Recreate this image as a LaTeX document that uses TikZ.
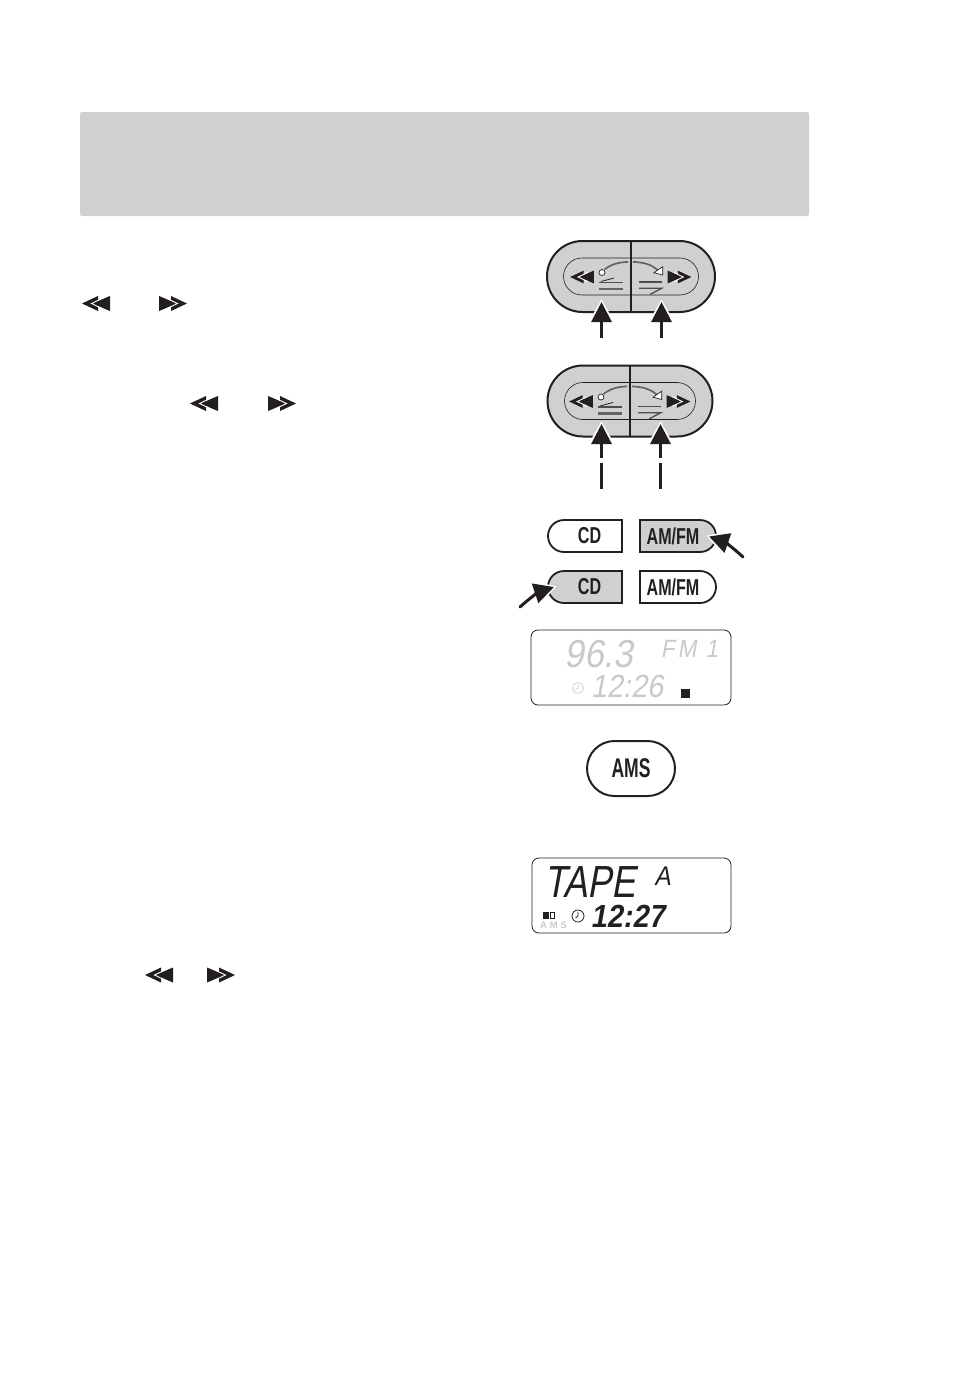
\documentclass[tikz,border=0pt]{standalone}
\usepackage{fontspec}
\usepackage{tikz}
\usetikzlibrary{shapes.misc,arrows.meta,calc}
\newfontfamily\btnfont[FakeStretch=0.7]{Liberation Sans}
\newfontfamily\amsfont[FakeStretch=0.65]{Liberation Sans}
\newfontfamily\lcdfont[FakeSlant=0.18,FakeStretch=0.9]{Liberation Sans}
\newfontfamily\lcdtall[FakeSlant=0.18,FakeStretch=0.8]{Liberation Sans}
\newfontfamily\tinyfont{Liberation Sans}
\definecolor{panelgrey}{HTML}{D0D0D0}
\definecolor{lcdgrey}{HTML}{C9C9C9}
\definecolor{inkblack}{HTML}{231F20}
\tikzstyle{pillbody} = [rounded rectangle, draw=inkblack, line width=2pt, fill=panelgrey, inner sep=0pt, outer sep=0pt]
\tikzstyle{pillinner} = [rounded rectangle, draw=inkblack, line width=0.6pt, inner sep=0pt, outer sep=0pt]
\tikzstyle{modebtn} = [rounded rectangle, draw=inkblack, line width=1.8pt, minimum width=74pt, minimum height=32pt, inner sep=0pt, outer sep=0pt]
\tikzstyle{leftround} = [modebtn, rounded rectangle east arc=none]
\tikzstyle{rightround} = [modebtn, rounded rectangle west arc=none]
\tikzstyle{btnlabel} = [inner sep=0pt, outer sep=0pt, text=inkblack, font=\btnfont\bfseries\fontsize{23}{23}\selectfont]
\tikzstyle{lcdbox} = [rectangle, rounded corners=7pt, draw=inkblack, line width=0.8pt, minimum width=199pt, minimum height=75pt, inner sep=0pt, outer sep=0pt]
\tikzstyle{lcdtext} = [inner sep=0pt, outer sep=0pt, text=inkblack]
\tikzstyle{pressarrow} = [line width=3pt, draw=inkblack, -{Triangle[length=20pt,width=20pt]}]
\tikzstyle{halo} = [preaction={draw=white, line width=3pt, -{Triangle[length=24pt,width=27pt]}, shorten >=-2.5pt}]
\tikzset{
  pics/fastfwd/.style={
    code={
      \fill[inkblack] (-2,-7.5) -- (14,0) -- (-2,7.5) -- cycle;
      \fill[inkblack] (-14,-7.5) -- (4,0) -- (-14,7.5) -- cycle;
      \draw[white, line width=0.9pt] (-7,-5.5) -- (4.5,0) -- (-7,5.5);
    }
  },
  pics/seekface/.style 2 args={
    code={
      \node (-outer) [pillbody, minimum width=#1pt, minimum height=71pt] at (0,0) {};
      \node (-inner) [pillinner, minimum width=#2pt, minimum height=37pt] at (0,0) {};
      \draw[inkblack, line width=1.3pt] (-outer.north) -- (-outer.south);
      \pic[scale=0.85, xscale=-1] at (-49,0.5) {fastfwd};
      \pic[scale=0.85] at (48.5,0.5) {fastfwd};
      % left half
      \draw[inkblack, line width=0.7pt, fill=white] (-29,-4) circle (3);
      \draw[inkblack!70, line width=1.7pt] (-26.5,-7) .. controls (-19,-13) and (-10,-14.5) .. (-3,-14.5);
      \draw[inkblack, line width=0.8pt] (-30,5) -- (-17,1.5);
      \draw[inkblack!80, line width=1.6pt] (-32,6) -- (-8,6);
      \draw[inkblack!70, line width=2.6pt] (-32,12.5) -- (-8,12.5);
      % right half
      \draw[inkblack!70, line width=1.7pt] (2,-14.5) .. controls (12,-14.5) and (21,-12) .. (27,-6);
      \draw[inkblack, line width=0.7pt, fill=white] (31.7,-1.5) -- (31.7,-9.8) -- (23,-3.8) -- cycle;
      \draw[inkblack!80, line width=1.8pt] (8,5.5) -- (31,5.5);
      \draw[inkblack!80, line width=1.3pt] (8,11.8) -- (30.6,11.8) -- (19,18);
    }
  }
}

\begin{document}
\begin{tikzpicture}[x=1pt,y=-1pt]
    \useasboundingbox (0,0) rectangle (954,1398);
    \node (band)[rectangle, rounded corners=2pt, fill=panelgrey, minimum width=729pt, minimum height=104pt, inner sep=0pt] at (444.5,164) {};

    % symbols in the text column
    \pic[xscale=-1] at (96,303.5) {fastfwd};
    \pic at (173,303.5) {fastfwd};
    \pic[xscale=-1] at (204,403.5) {fastfwd};
    \pic at (282,403.5) {fastfwd};
    \pic[xscale=-1] at (159,975) {fastfwd};
    \pic at (221,975) {fastfwd};

    % seek buttons
    \pic (pillA) at (631,276.5) {seekface={168}{135}};
    \pic (pillB) at (630,401) {seekface={165}{131}};

    \coordinate (tailA1) at (601.5,338);
    \coordinate (tipA1) at (601.5,302);
    \coordinate (tailA2) at (661.5,338);
    \coordinate (tipA2) at (661.5,302);
    \draw[pressarrow, halo] (tailA1) -- (tipA1);
    \draw[pressarrow, halo] (tailA2) -- (tipA2);

    \coordinate (tailB1) at (601.5,489);
    \coordinate (tipB1) at (601.5,424);
    \coordinate (tailB2) at (660.5,489);
    \coordinate (tipB2) at (660.5,424);
    \draw[pressarrow, halo, dash pattern=on 26pt off 5pt on 60pt] (tailB1) -- (tipB1);
    \draw[pressarrow, halo, dash pattern=on 26pt off 5pt on 60pt] (tailB2) -- (tipB2);

    % mode buttons
    \node (cdA)[leftround] at (585,536) {};
    \node (amA)[rightround, fill=panelgrey, minimum width=76pt] at (678,536) {};
    \node (cdB)[leftround, fill=panelgrey] at (585,587) {};
    \node (amB)[rightround, minimum width=76pt] at (678,587) {};
    \node (cdAtext)[btnlabel] at (589.5,536) {CD};
    \node (amAtext)[btnlabel] at (673,536) {AM/FM};
    \node (cdBtext)[btnlabel] at (589.5,587) {CD};
    \node (amBtext)[btnlabel] at (673,587) {AM/FM};
    \coordinate (tailC1) at (743,557);
    \coordinate (tipC1) at (709,536.5);
    \coordinate (tailC2) at (520,607);
    \coordinate (tipC2) at (554,587);
    \draw[pressarrow, halo, line cap=round] (tailC1) to[bend right=12] (tipC1);
    \draw[pressarrow, halo, line cap=round] (tailC2) to[bend left=12] (tipC2);

    % radio display
    \node (lcdA)[lcdbox, minimum width=200pt] at (631,667.5) {};
    \node (freq)[lcdtext, text=lcdgrey, font=\lcdfont\fontsize{39}{39}\selectfont] at (599,654) {96.3};
    \node (band1)[lcdtext, text=lcdgrey, font=\lcdfont\fontsize{25}{25}\selectfont\addfontfeature{LetterSpace=12}] at (689.5,649) {FM 1};
    \node (timeA)[lcdtext, text=lcdgrey, font=\lcdfont\fontsize{32}{32}\selectfont] at (627,686.5) {12:26};
    \draw[lcdgrey, line width=0.7pt] (578,688) circle (5.5);
    \draw[lcdgrey, line width=0.7pt] (578,684.5) -- (578,688) -- (575.5,689.5);
    \fill[inkblack] (681,689) rectangle (690,698);

    % AMS button
    \node (ams)[rounded rectangle, draw=inkblack, line width=2pt, minimum width=88pt, minimum height=55pt, inner sep=0pt, text=inkblack, font=\amsfont\bfseries\fontsize{27}{27}\selectfont] at (631,768.5) {AMS};

    % tape display
    \node (lcdB)[lcdbox] at (631.5,895.5) {};
    \node (tape)[lcdtext, font=\lcdtall\fontsize{45}{45}\selectfont] at (590,882) {TAPE};
    \node (side)[lcdtext, font=\lcdfont\fontsize{27}{27}\selectfont] at (662.5,876) {A};
    \node (timeB)[lcdtext, font=\lcdfont\bfseries\fontsize{32}{32}\selectfont] at (627.5,916) {12:27};
    \draw[inkblack, line width=0.8pt] (578,916) circle (6);
    \draw[inkblack, line width=0.8pt] (578,912) -- (578,916) -- (575.5,918);
    \fill[inkblack] (543,912) rectangle (549,919);
    \draw[inkblack, line width=0.8pt] (550.5,912.5) rectangle (554.5,918.5);
    \node (amsB)[lcdtext, text=lcdgrey, font=\tinyfont\bfseries\fontsize{9.5}{9.5}\selectfont\addfontfeature{LetterSpace=30}] at (553.5,925) {AMS};
\end{tikzpicture}
\end{document}
